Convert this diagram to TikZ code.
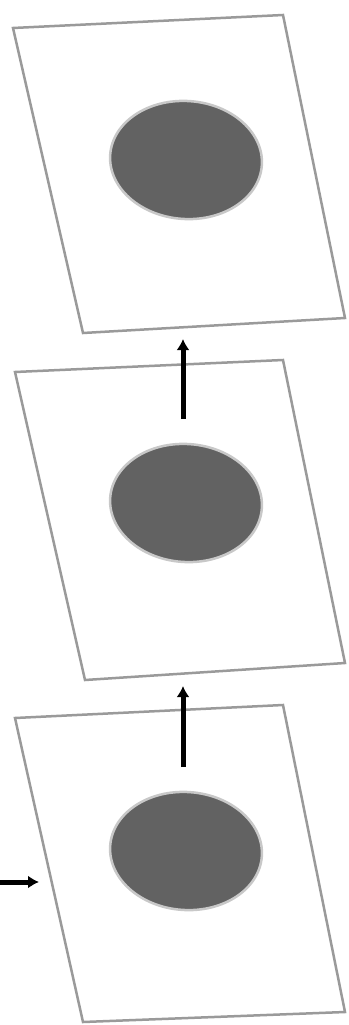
\documentclass[tikz,border=0pt]{standalone}
\usepackage{xcolor}
\usepackage{tikz}
\usetikzlibrary{arrows.meta,shapes.geometric}
\definecolor{SpotGray}{HTML}{626262}
\definecolor{EdgeGray}{HTML}{9A9A9A}

\begin{document}
\begin{tikzpicture}[
  x=1pt, y=-1pt,
  panel/.style={draw=EdgeGray, line width=2.5pt, fill=white},
  spot/.style={ellipse, fill=SpotGray, draw=SpotGray!35, line width=2.5pt, minimum width=152pt, minimum height=118pt, inner sep=0pt, rotate=-4},
  arrow/.style={-{Latex[length=11pt,width=13pt]}, line width=5pt, draw=black}
]
  \useasboundingbox (0,0) rectangle (348,1025);

  % three stacked slices
  \draw[panel] (13,28) -- (283,15) -- (345,318) -- (83,333) -- cycle;
  \draw[panel] (15,372) -- (283,360) -- (345,663) -- (85,680) -- cycle;
  \draw[panel] (15,718) -- (283,705) -- (345,1012) -- (83,1022) -- cycle;

  \node[spot] (spot1) at (186,160) {};
  \node[spot] (spot2) at (186,503) {};
  \node[spot] (spot3) at (186,851) {};

  \coordinate (edge1) at (183,339);
  \coordinate (edge2) at (183,686);
  \coordinate (tail2) at (183,419);
  \coordinate (tail3) at (183,767);
  \coordinate (feed) at (0,882);
  \coordinate (entry) at (39,882);

  \draw[arrow] (tail2) -- (edge1);
  \draw[arrow] (tail3) -- (edge2);
  \draw[arrow] (feed) -- (entry);
\end{tikzpicture}
\end{document}
